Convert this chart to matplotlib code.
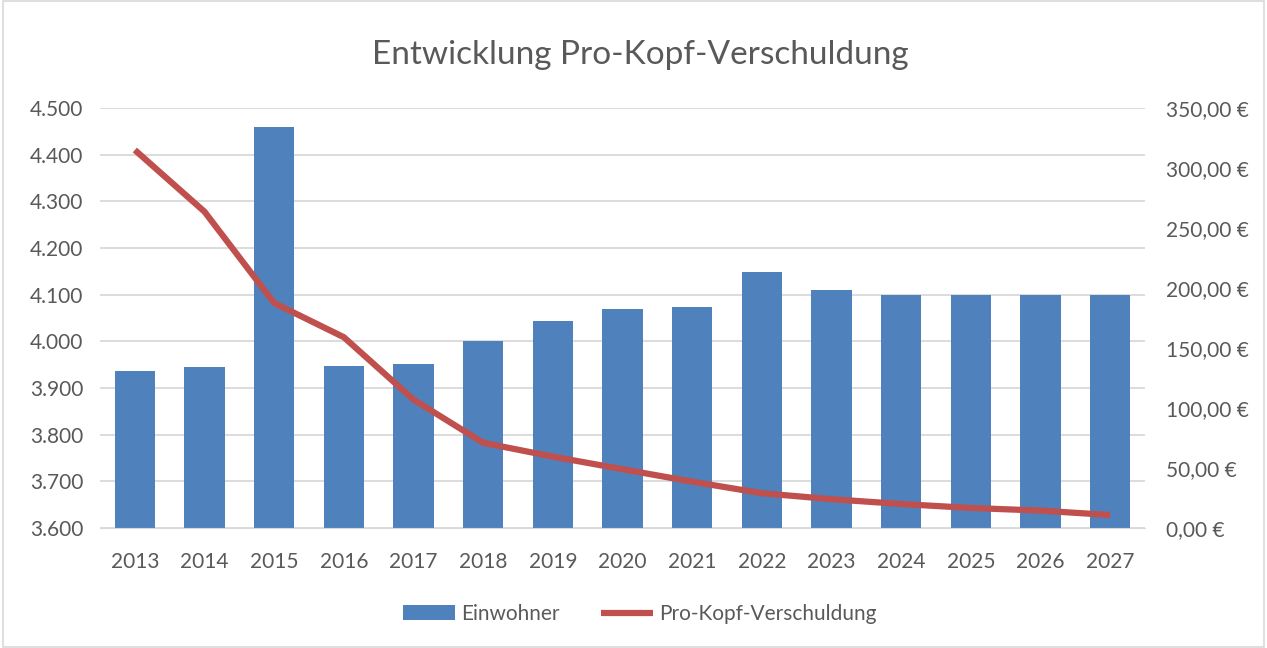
import matplotlib.pyplot as plt
from matplotlib.ticker import FuncFormatter
from matplotlib.patches import Rectangle

# ---------- data ----------
years = ["2013", "2014", "2015", "2016", "2017", "2018", "2019", "2020",
         "2021", "2022", "2023", "2024", "2025", "2026", "2027"]
einwohner = [3936, 3945, 4459, 3947, 3952, 4000, 4043, 4069,
             4074, 4149, 4110, 4100, 4100, 4100, 4100]
verschuldung = [315.0, 263.6, 187.5, 159.0, 107.0, 71.0, 59.5, 49.0,
                38.6, 29.0, 24.0, 20.0, 16.7, 14.5, 10.8]

blue = "#4f81bd"
red = "#c0504d"
grey = "#595959"

plt.rcParams["font.family"] = ["Lato", "DejaVu Sans"]

fig = plt.figure(figsize=(12.67, 6.48), dpi=100)
ax = fig.add_axes([100 / 1267, 1 - 528 / 648, 1045 / 1267, 420 / 648])
ax2 = ax.twinx()

x = range(len(years))
ax.bar(x, einwohner, width=0.575, color=blue, label="Einwohner", zorder=2)
ax2.plot(x, verschuldung, color=red, lw=4.5, label="Pro-Kopf-Verschuldung",
         solid_capstyle="butt")

ax.set_xlim(-0.5, len(years) - 0.5)
ax.set_ylim(3600, 4500)
ax.set_yticks(range(3600, 4501, 100))
ax.yaxis.set_major_formatter(FuncFormatter(lambda v, p: f"{int(v):,}".replace(",", ".")))
ax2.set_ylim(0, 350)
ax2.set_yticks(range(0, 351, 50))
ax2.yaxis.set_major_formatter(FuncFormatter(lambda v, p: f"{v:.2f}".replace(".", ",") + " €"))

ax.set_xticks(list(x))
ax.set_xticklabels(years)
ax.grid(axis="y", color="#d9d9d9", lw=1.3, zorder=0)
ax.set_axisbelow(True)

for a in (ax, ax2):
    for s in a.spines.values():
        s.set_visible(False)
    a.tick_params(length=0, labelsize=15, colors=grey)
ax.spines["bottom"].set_visible(True)
ax.spines["bottom"].set_color("#d9d9d9")
ax.tick_params(axis="x", pad=17)
ax.tick_params(axis="y", pad=12)
ax2.tick_params(axis="y", pad=15)

fig.text(0.505, 1 - 55 / 648, "Entwicklung Pro-Kopf-Verschuldung",
         ha="center", va="center", fontsize=24, color=grey)

h1, l1 = ax.get_legend_handles_labels()
h2, l2 = ax2.get_legend_handles_labels()
fig.legend(h1 + h2, l1 + l2, loc="center", bbox_to_anchor=(0.505, 1 - 614 / 648),
           ncol=2, frameon=False, fontsize=15, labelcolor=grey,
           handlelength=2.5, columnspacing=2.0, handletextpad=0.3)

fig.patches.append(Rectangle((0.002, 0.002), 0.996, 0.996, transform=fig.transFigure,
                             fill=False, edgecolor="#d9d9d9", lw=1.2))

fig.savefig("out.png", dpi=100)
